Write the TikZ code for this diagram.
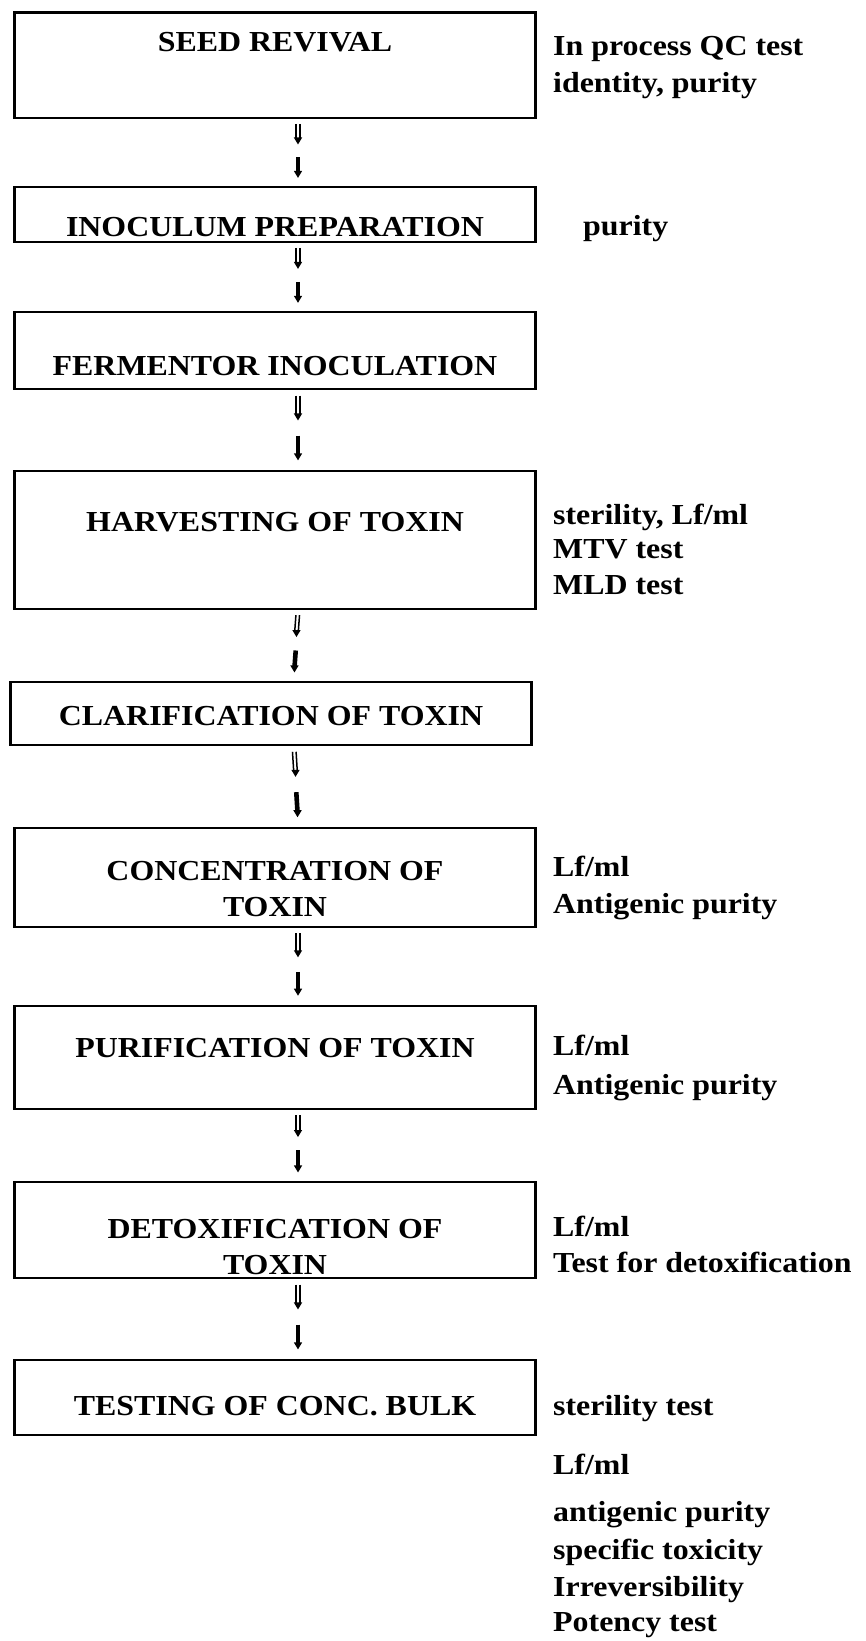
\documentclass[tikz,border=0pt]{standalone}
\usepackage{fontspec}
\setmainfont[FakeStretch=1.1]{Liberation Serif}
\usetikzlibrary{calc}

\tikzset{
  stepbox/.style={draw=black, line width=2.2pt, rectangle, inner sep=0pt,
                  minimum width=521pt},
  boxtext/.style={font=\fontsize{29}{36.6}\selectfont\bfseries, align=center,
                  inner sep=0pt, anchor=center},
  qctext/.style={font=\fontsize{29}{36.6}\selectfont\bfseries, align=left,
                 inner sep=0pt, anchor=mid west},
  thinshaft/.style={line width=1.5pt},
  thickshaft/.style={line width=4.6pt},
}

% one dashed hand-off between two process steps:
% a short open-shaft arrow followed by a short solid arrow
\newcommand{\handoff}[2]{%
  \coordinate (#1-a) at ($([xshift=23pt]#1.south)!0.07!([xshift=23pt]#2.north)$);
  \coordinate (#1-b) at ($([xshift=23pt]#1.south)!0.38!([xshift=23pt]#2.north)$);
  \coordinate (#1-c) at ($([xshift=23pt]#1.south)!0.57!([xshift=23pt]#2.north)$);
  \coordinate (#1-d) at ($([xshift=23pt]#1.south)!0.88!([xshift=23pt]#2.north)$);
  \draw[thinshaft] ([xshift=-1.8pt]#1-a) -- ([xshift=-1.8pt,yshift=5pt]#1-b);
  \draw[thinshaft] ([xshift=1.8pt]#1-a) -- ([xshift=1.8pt,yshift=5pt]#1-b);
  \fill ([xshift=-4.2pt,yshift=7pt]#1-b) -- ([xshift=4.2pt,yshift=7pt]#1-b) -- (#1-b) -- cycle;
  \draw[thickshaft] (#1-c) -- ([yshift=5pt]#1-d);
  \fill ([xshift=-4.2pt,yshift=7pt]#1-d) -- ([xshift=4.2pt,yshift=7pt]#1-d) -- (#1-d) -- cycle;
}

\begin{document}
\begin{tikzpicture}[x=1pt, y=-1pt]
\useasboundingbox (0,0) rectangle (865,1641);

% process steps
\node[stepbox, minimum height=105.5pt] (b1) at (275,65.25) {};
\node[boxtext] (t1) at (275,42) {SEED REVIVAL};

\node[stepbox, minimum height=55pt] (b2) at (275,214.5) {};
\node[boxtext] (t2) at (275,227) {INOCULUM PREPARATION};

\node[stepbox, minimum height=77pt] (b3) at (275,350.5) {};
\node[boxtext] (t3) at (275,366) {FERMENTOR INOCULATION};

\node[stepbox, minimum height=138pt] (b4) at (275,540) {};
\node[boxtext] (t4) at (275,522) {HARVESTING OF TOXIN};

\node[stepbox, minimum height=63pt] (b5) at (271,713.5) {};
\node[boxtext] (t5) at (271,716) {CLARIFICATION OF TOXIN};

\node[stepbox, minimum height=99pt] (b6) at (275,877.5) {};
\node[boxtext] (t6) at (275,889) {CONCENTRATION OF\\TOXIN};

\node[stepbox, minimum height=103pt] (b7) at (275,1057.5) {};
\node[boxtext] (t7) at (275,1048) {PURIFICATION OF TOXIN};

\node[stepbox, minimum height=96pt] (b8) at (275,1230) {};
\node[boxtext] (t8) at (275,1247) {DETOXIFICATION OF\\TOXIN};

\node[stepbox, minimum height=75pt] (b9) at (275,1397.5) {};
\node[boxtext] (t9) at (275,1406) {TESTING OF CONC. BULK};

% hand-offs between steps
\handoff{b1}{b2}
\handoff{b2}{b3}
\handoff{b3}{b4}
\handoff{b4}{b5}
\handoff{b5}{b6}
\handoff{b6}{b7}
\handoff{b7}{b8}
\handoff{b8}{b9}

% quality control tests for each step
\node[qctext] (q1a) at (553,53.5) {In process QC test};
\node[qctext] (q1b) at (553,90.5) {identity, purity};
\node[qctext] (q2)  at (583,233.5) {purity};
\node[qctext] (q4a) at (553,522.5) {sterility, Lf/ml};
\node[qctext] (q4b) at (553,556.5) {MTV test};
\node[qctext] (q4c) at (553,592.5) {MLD test};
\node[qctext] (q6a) at (553,874.5) {Lf/ml};
\node[qctext] (q6b) at (553,911.5) {Antigenic purity};
\node[qctext] (q7a) at (553,1053.5) {Lf/ml};
\node[qctext] (q7b) at (553,1092.5) {Antigenic purity};
\node[qctext] (q8a) at (553,1234.5) {Lf/ml};
\node[qctext] (q8b) at (553,1270.5) {Test for detoxification};
\node[qctext] (q9)  at (553,1413.5) {sterility test};
\node[qctext] (q9a) at (553,1472) {Lf/ml};
\node[qctext] (q9b) at (553,1519) {antigenic purity};
\node[qctext] (q9c) at (553,1557) {specific toxicity};
\node[qctext] (q9d) at (553,1594) {Irreversibility};
\node[qctext] (q9e) at (553,1629) {Potency test};
\end{tikzpicture}
\end{document}
